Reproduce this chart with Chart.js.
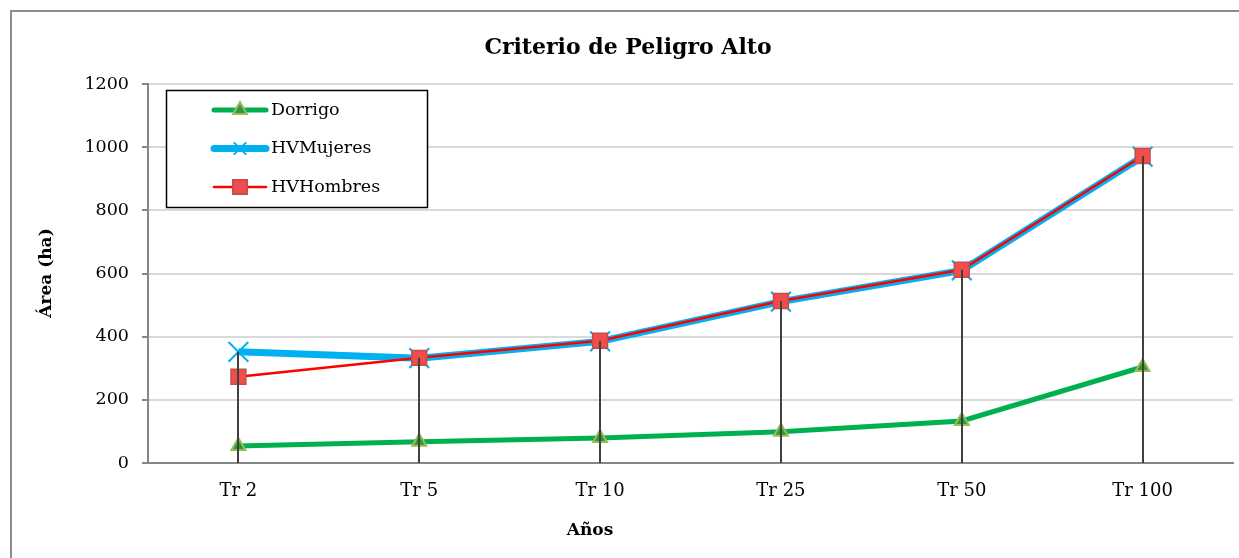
<!DOCTYPE html>
<html>
<head>
<meta charset="utf-8">
<script src="https://cdn.jsdelivr.net/npm/chart.js@4.4.0/dist/chart.umd.min.js"></script>
<style>
  body { margin: 0; background: #fff; overflow: hidden; }
  #frame { position: absolute; left: 10px; top: 10px; width: 1300px; height: 600px; border: 2px solid #8c8c8c; }
  #wrap { position: absolute; left: 0; top: 0; width: 1249px; height: 558px; }
</style>
</head>
<body>
<div id="frame"></div>
<div id="wrap"><canvas id="chart1"></canvas></div>
<script>
const categories = ['Tr 2', 'Tr 5', 'Tr 10', 'Tr 25', 'Tr 50', 'Tr 100'];
const dorrigo = [54, 67, 79, 99, 133, 304];
const hvMujeres = [352, 332, 385, 511, 610, 970];
const hvHombres = [273, 333, 387, 513, 612, 972];
const yTicks = [0, 200, 400, 600, 800, 1000, 1200];

const FONT = '"DejaVu Serif", serif';

const legendItems = [
    { label: 'Dorrigo', line: '#00b050', width: 5, style: 'triangle', fill: '#2f9a3a', border: '#9bbb59', r: 8 },
    { label: 'HVMujeres', line: '#00b0f0', width: 7, style: 'crossRot', fill: '#00b0f0', border: '#00b0f0', r: 8 },
    { label: 'HVHombres', line: '#ff0000', width: 2.5, style: 'rect', fill: '#f24d4d', border: '#c0504d', r: 10 }
];

// drop lines, titles and the boxed legend
const extras = {
    id: 'extras',
    afterDatasetsDraw(chart) {
        const ctx = chart.ctx;
        const x = chart.scales.x, y = chart.scales.y;
        ctx.save();
        ctx.strokeStyle = '#404040';
        ctx.lineWidth = 2;
        categories.forEach((c, i) => {
            const top = Math.max(dorrigo[i], hvMujeres[i], hvHombres[i]);
            const px = Math.round(x.getPixelForValue(i));
            ctx.beginPath();
            ctx.moveTo(px, y.getPixelForValue(top));
            ctx.lineTo(px, y.getPixelForValue(0));
            ctx.stroke();
        });
        ctx.restore();
    },
    afterDraw(chart) {
        const ctx = chart.ctx;
        ctx.save();
        ctx.fillStyle = '#000';
        ctx.textAlign = 'center';
        ctx.textBaseline = 'middle';
        ctx.font = 'bold 22px ' + FONT;
        ctx.fillText('Criterio de Peligro Alto', 628, 48);
        ctx.font = 'bold 17px ' + FONT;
        ctx.fillText('Años', 590, 531);
        ctx.translate(47, 273);
        ctx.rotate(-Math.PI / 2);
        ctx.fillText('Área (ha)', 0, 0);
        ctx.restore();

        // legend box
        ctx.save();
        ctx.fillStyle = '#fff';
        ctx.fillRect(166, 90, 262, 118);
        ctx.strokeStyle = '#000';
        ctx.lineWidth = 1.5;
        ctx.strokeRect(166.5, 90.5, 261, 117);
        legendItems.forEach((it, i) => {
            const cy = 110 + i * 38.5;
            ctx.strokeStyle = it.line;
            ctx.lineWidth = it.width;
            ctx.lineCap = 'round';
            ctx.beginPath();
            ctx.moveTo(214, cy);
            ctx.lineTo(266, cy);
            ctx.stroke();
            ctx.fillStyle = it.fill;
            ctx.strokeStyle = it.border;
            ctx.lineWidth = 2;
            Chart.helpers.drawPoint(ctx, { pointStyle: it.style, radius: it.r, rotation: 0, borderWidth: 2 }, 240, cy);
            ctx.fillStyle = '#000';
            ctx.font = '17.5px ' + FONT;
            ctx.textAlign = 'left';
            ctx.textBaseline = 'middle';
            ctx.fillText(it.label, 271, cy);
        });
        ctx.restore();
    }
};

new Chart(document.getElementById('chart1').getContext('2d'), {
    type: 'line',
    data: {
        labels: categories,
        datasets: [
            {
                label: 'Dorrigo', data: dorrigo, order: 2,
                borderColor: '#00b050', borderWidth: 5,
                pointStyle: 'triangle', pointRadius: 8, pointBackgroundColor: '#2f9a3a',
                pointBorderColor: '#9bbb59', pointBorderWidth: 2, tension: 0
            },
            {
                label: 'HVMujeres', data: hvMujeres, order: 3,
                borderColor: '#00b0f0', borderWidth: 7,
                pointStyle: 'crossRot', pointRadius: 14, pointBorderColor: '#00b0f0',
                pointBorderWidth: 2, tension: 0
            },
            {
                label: 'HVHombres', data: hvHombres, order: 1,
                borderColor: '#ff0000', borderWidth: 2.5,
                pointStyle: 'rect', pointRadius: 10.5, pointBackgroundColor: '#f24d4d',
                pointBorderColor: '#c0504d', pointBorderWidth: 1.5, tension: 0
            }
        ]
    },
    options: {
        responsive: true,
        maintainAspectRatio: false,
        animation: false,
        layout: { padding: { left: 0, right: 0, top: 84, bottom: 0 } },
        plugins: {
            legend: { display: false },
            title: { display: false },
            tooltip: { enabled: false }
        },
        scales: {
            x: {
                offset: true,
                grid: { display: false, drawTicks: false },
                border: { color: '#868686', width: 2 },
                ticks: { color: '#000', font: { family: FONT, size: 18 }, padding: 18 },
                afterFit(s) { s.height = 95; }
            },
            y: {
                min: 0, max: 1200,
                afterBuildTicks(s) { s.ticks = yTicks.map(v => ({ value: v })); },
                grid: { color: '#d9d9d9', lineWidth: 2, drawTicks: true, tickLength: 6, tickColor: '#868686' },
                border: { color: '#868686', width: 2 },
                ticks: {
                    color: '#000', font: { family: FONT, size: 17.5 }, padding: 13,
                    callback: v => String(v)
                },
                afterFit(s) { s.width = 148; }
            }
        }
    },
    plugins: [extras]
});
</script>
</body>
</html>
